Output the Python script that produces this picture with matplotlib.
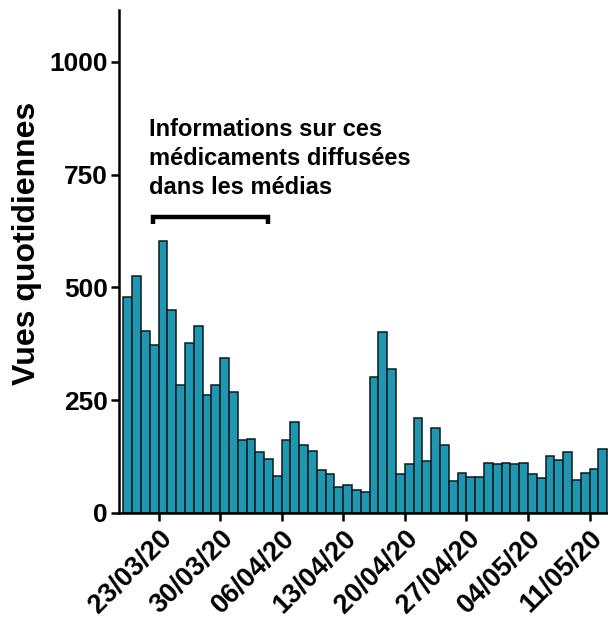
import matplotlib
matplotlib.use("Agg")
import matplotlib.pyplot as plt
import matplotlib.dates as mdates
import numpy as np
import pandas as pd

start_date = "2020-03-19"
values = [478, 526, 404, 372, 602, 449, 283, 376, 414, 262, 284, 344, 268,
          162, 163, 136, 119, 81, 161, 201, 151, 137, 96, 86, 57, 62, 51, 46,
          302, 401, 319, 86, 108, 210, 115, 188, 151, 71, 89, 79, 80, 111, 109,
          111, 109, 111, 87, 78, 127, 117, 135, 74, 89, 98, 141]
dates = pd.date_range(start_date, periods=len(values), freq="D")
tick_dates = ["2020-03-23", "2020-03-30", "2020-04-06", "2020-04-13",
              "2020-04-20", "2020-04-27", "2020-05-04", "2020-05-11"]
tick_labels = ["23/03/20", "30/03/20", "06/04/20", "13/04/20",
               "20/04/20", "27/04/20", "04/05/20", "11/05/20"]
y_ticks = [0, 250, 500, 750, 1000]
ylabel = "Vues quotidiennes"
note = "Informations sur ces\nmédicaments diffusées\ndans les médias"

plt.rcParams['font.family'] = ['Liberation Sans', 'DejaVu Sans']

fig = plt.figure(figsize=(6.08, 6.20), dpi=100)
ax = fig.add_axes([119/608, 107/620, (608-119)/608 + 0.01, (513-10)/620])

x = mdates.date2num(dates.to_pydatetime())
ax.bar(x, values, width=1.0, align='edge', color='#1f97b1',
       edgecolor='#0b1a20', linewidth=1.1, zorder=2)

x0 = x[0]
ax.set_xlim(x0 - 0.5, x0 - 0.5 + (608 - 119) / 8.78 + 0.6)
ax.set_ylim(0, 1115)

tx = mdates.date2num(pd.to_datetime(tick_dates).to_pydatetime())
ax.set_xticks(tx)
ax.set_xticklabels(tick_labels, rotation=45, ha='right', rotation_mode='anchor',
                   fontsize=19.5, fontweight='bold')
ax.set_yticks(y_ticks)
ax.set_yticklabels([str(v) for v in y_ticks], fontsize=19, fontweight='bold')
ax.set_ylabel(ylabel, fontsize=23, fontweight='bold')
ax.yaxis.set_label_coords(-0.155, 0.537)

for s in ['top', 'right']:
    ax.spines[s].set_visible(False)
for s in ['left', 'bottom']:
    ax.spines[s].set_linewidth(1.8)
ax.tick_params(axis='both', width=1.8, length=6, pad=2)
ax.tick_params(axis='x', pad=3)

# bracket
bx0 = x0 + 3.31
bx1 = x0 + 16.4
ax.plot([bx0, bx0, bx1, bx1], [640, 656, 656, 640], color='black',
        linewidth=3.2, solid_capstyle='butt', solid_joinstyle='miter', zorder=3)

ax.text(x0 + 2.86, 875, note, fontsize=17, fontweight='bold', va='top',
        ha='left', linespacing=1.32)

fig.savefig("out.png", dpi=100)
